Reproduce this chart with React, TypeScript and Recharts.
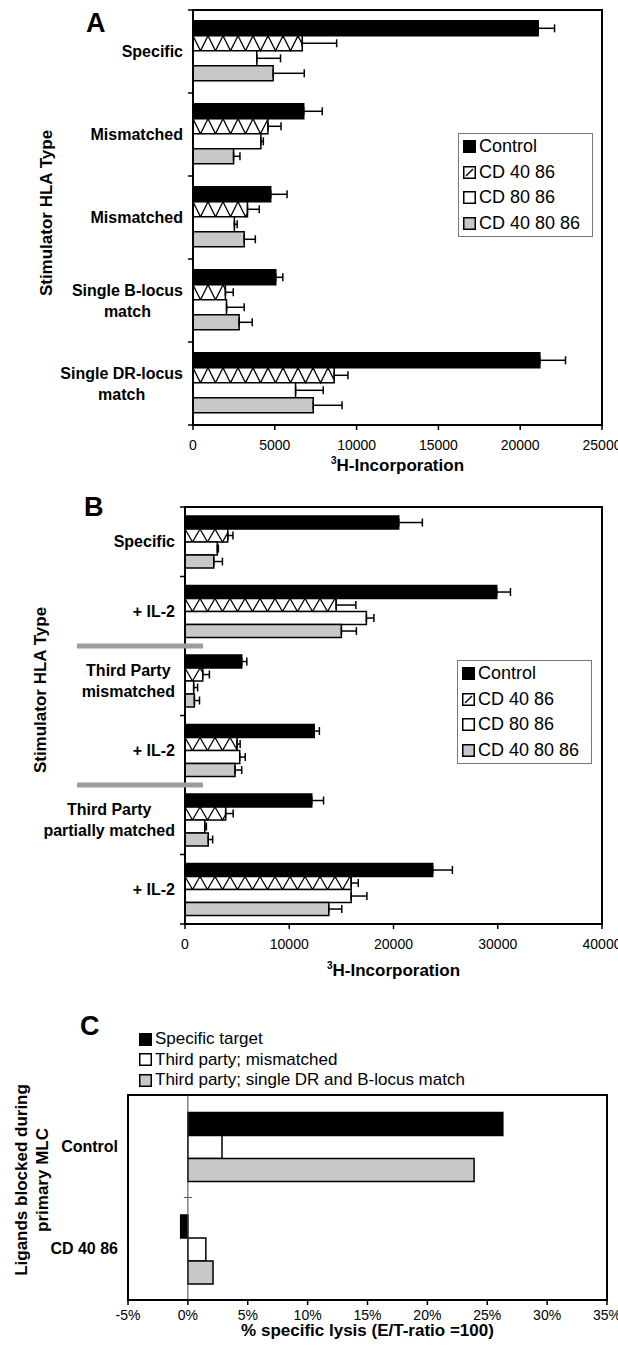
import React from "react";
import {
  BarChart,
  Bar,
  XAxis,
  YAxis,
  ErrorBar,
  Legend,
  Label,
  ReferenceLine,
  ReferenceArea,
} from "recharts";

const FONT = "'Liberation Sans', Arial, Helvetica, sans-serif";

// ---------- Panel A ----------
const catsA = [
  "Specific",
  "Mismatched",
  "Mismatched",
  "Single B-locus\nmatch",
  "Single DR-locus\nmatch",
];
const controlA = [21100, 6770, 4750, 5060, 21200];
const controlErrA = [1000, 1130, 1000, 430, 1570];
const cd4086A = [6680, 4580, 3330, 1980, 8630];
const cd4086ErrA = [2100, 800, 720, 480, 840];
const cd8086A = [3900, 4150, 2530, 2050, 6270];
const cd8086ErrA = [1450, 150, 170, 1080, 1690];
const cd408086A = [4900, 2480, 3130, 2820, 7350];
const cd408086ErrA = [1900, 390, 680, 800, 1760];
const ticksA = [0, 5000, 10000, 15000, 20000, 25000];

// ---------- Panel B ----------
const catsB = [
  "Specific",
  "+ IL-2",
  "Third Party\nmismatched",
  "+ IL-2",
  "Third Party\npartially matched",
  "+ IL-2",
];
const controlB = [20500, 29900, 5440, 12400, 12160, 23760];
const controlErrB = [2270, 1320, 490, 490, 1130, 1890];
const cd4086B = [4100, 14500, 1700, 4990, 3900, 15940];
const cd4086ErrB = [500, 1890, 640, 300, 720, 680];
const cd8086B = [3100, 17400, 830, 5250, 1900, 15940];
const cd8086ErrB = [100, 720, 380, 530, 150, 1510];
const cd408086B = [2760, 15000, 900, 4800, 2230, 13790];
const cd408086ErrB = [830, 1440, 490, 640, 420, 1250];
const ticksB = [0, 10000, 20000, 30000, 40000];
const separatorsB = [2, 4]; // grey divider above these groups

// ---------- Panel C ----------
const catsC = ["Control", "CD 40 86"];
const specificC = [26.3, -0.6];
const mismatchedC = [2.85, 1.5];
const partialC = [23.9, 2.1];
const ticksC = [-5, 0, 5, 10, 15, 20, 25, 30, 35];

const SERIES = [
  { key: "control", name: "Control", fill: "#000000" },
  { key: "cd4086", name: "CD 40 86", fill: "hatch" },
  { key: "cd8086", name: "CD 80 86", fill: "#ffffff" },
  { key: "cd408086", name: "CD 40 80 86", fill: "#c8c8c8" },
];

const SERIES_C = [
  { key: "specific", name: "Specific target", fill: "#000000" },
  { key: "mismatched", name: "Third party; mismatched", fill: "#ffffff" },
  { key: "partial", name: "Third party; single DR and B-locus match", fill: "#c8c8c8" },
];

const AXIS = { stroke: "#000", strokeWidth: 2 };

function makeRows(vals: number[][], errs: number[][], n: number) {
  const rows: any[] = [];
  for (let i = 0; i < n; i++) {
    const r: any = { id: i };
    SERIES.forEach((s, k) => {
      r[s.key] = vals[k][i];
      r[s.key + "Err"] = [0, errs[k][i]];
    });
    rows.push(r);
  }
  return rows;
}

const rowsA = makeRows(
  [controlA, cd4086A, cd8086A, cd408086A],
  [controlErrA, cd4086ErrA, cd8086ErrA, cd408086ErrA],
  catsA.length
);
const rowsB = makeRows(
  [controlB, cd4086B, cd8086B, cd408086B],
  [controlErrB, cd4086ErrB, cd8086ErrB, cd408086ErrB],
  catsB.length
);
const rowsC = catsC.map((c, i) => ({
  id: i,
  specific: specificC[i],
  mismatched: mismatchedC[i],
  partial: partialC[i],
}));

let measureCtx: CanvasRenderingContext2D | null = null;
function textWidth(s: string, font: string) {
  if (!measureCtx) measureCtx = document.createElement("canvas").getContext("2d");
  if (!measureCtx) return s.length * 8;
  measureCtx.font = font;
  return measureCtx.measureText(s).width;
}

// zigzag-hatched bar for CD 40 86
function HatchBar(props: any) {
  const { x, y, width, height } = props;
  if (!width || !height) return null;
  const step = 7.5;
  let d = `M${x},${y}`;
  let px = x;
  let atTop = true;
  for (let k = 1; k < 200; k++) {
    const nx = x + k * step;
    if (nx >= x + width) {
      const t = (x + width - px) / step;
      const ey = atTop ? y + t * height : y + height - t * height;
      d += ` L${x + width},${ey}`;
      break;
    }
    d += ` L${nx},${atTop ? y + height : y}`;
    px = nx;
    atTop = !atTop;
  }
  return (
    <g>
      <rect x={x} y={y} width={width} height={height} fill="#fff" stroke="#000" strokeWidth={1.5} />
      <path d={d} fill="none" stroke="#000" strokeWidth={1.3} />
    </g>
  );
}

function CatTick(props: any) {
  const { y, payload, labels, plotLeft, band, count, separators, boundaryTicks, zeroX } = props;
  const i = payload.value as number;
  const lines = String(labels[i]).split("\n");
  const fontSize = 16;
  const font = `bold ${fontSize}px ${FONT}`;
  const w = Math.max(...lines.map((l) => textWidth(l, font)));
  const cx = plotLeft - 10 - w / 2;
  const lh = 21;
  const y0 = y - ((lines.length - 1) * lh) / 2;
  const topB = y - band / 2;
  return (
    <g>
      {boundaryTicks && (
        <line x1={plotLeft - 5} x2={plotLeft} y1={topB} y2={topB} stroke="#000" strokeWidth={1.5} />
      )}
      {boundaryTicks && i === count - 1 && (
        <line x1={plotLeft - 5} x2={plotLeft} y1={y + band / 2} y2={y + band / 2} stroke="#000" strokeWidth={1.5} />
      )}
      {zeroX != null && i > 0 && (
        <line x1={zeroX - 4} x2={zeroX + 4} y1={topB} y2={topB} stroke="#555" strokeWidth={1} />
      )}
      {separators && separators.includes(i) && (
        <line x1={plotLeft - 108} x2={plotLeft + 18} y1={topB} y2={topB} stroke="#9c9c9c" strokeWidth={5} />
      )}
      <text textAnchor="middle" fontFamily={FONT} fontWeight="bold" fontSize={fontSize} fill="#000">
        {lines.map((l, k) => (
          <tspan key={k} x={cx} y={y0 + k * lh} dominantBaseline="central">
            {l}
          </tspan>
        ))}
      </text>
    </g>
  );
}

function Swatch({ fill }: { fill: string }) {
  return (
    <svg width={13} height={13} style={{ marginRight: 3, flex: "none" }}>
      <rect x={0.75} y={0.75} width={11.5} height={11.5} fill={fill === "hatch" ? "#fff" : fill} stroke="#000" strokeWidth={1.5} />
      {fill === "hatch" && <line x1={3} y1={10} x2={10} y2={3} stroke="#000" strokeWidth={1.5} />}
    </svg>
  );
}

function BoxLegend() {
  return (
    <div
      style={{
        border: "1px solid #777",
        background: "#fff",
        padding: "0 4px",
        fontFamily: FONT,
        fontSize: 18,
        lineHeight: "25.5px",
        color: "#000",
        boxSizing: "border-box",
      }}
    >
      {SERIES.map((s) => (
        <div key={s.key} style={{ display: "flex", alignItems: "center", whiteSpace: "nowrap" }}>
          <Swatch fill={s.fill} />
          <span>{s.name}</span>
        </div>
      ))}
    </div>
  );
}

function LegendC() {
  return (
    <div style={{ fontFamily: FONT, fontSize: 17, lineHeight: "20.5px", color: "#000" }}>
      {SERIES_C.map((s) => (
        <div key={s.key} style={{ display: "flex", alignItems: "center", whiteSpace: "nowrap" }}>
          <Swatch fill={s.fill} />
          <span>{s.name}</span>
        </div>
      ))}
    </div>
  );
}

function XTitle({ x, y, text, sup }: { x: number; y: number; text: string; sup?: string }) {
  return (
    <text x={x} y={y} textAnchor="middle" fontFamily={FONT} fontWeight="bold" fontSize={17} fill="#000">
      {sup && (
        <tspan fontSize={10} dy={-7}>
          {sup}
        </tspan>
      )}
      <tspan dy={sup ? 7 : 0}>{text}</tspan>
    </text>
  );
}

function YTitle({ x, y, lines }: { x: number; y: number; lines: string[] }) {
  const lh = 21;
  return (
    <text
      transform={`translate(${x},${y}) rotate(-90)`}
      textAnchor="middle"
      fontFamily={FONT}
      fontWeight="bold"
      fontSize={17}
      fill="#000"
    >
      {lines.map((l, k) => (
        <tspan key={k} x={0} y={(k - (lines.length - 1) / 2) * lh} dominantBaseline="central">
          {l}
        </tspan>
      ))}
    </text>
  );
}

const tickStyle = { fontSize: 14, fill: "#000", fontFamily: FONT };

type PanelProps = {
  rows: any[];
  cats: string[];
  height: number;
  margin: { top: number; right: number; bottom: number; left: number };
  domain: [number, number];
  ticks: number[];
  legend: { left: number; top: number; width: number };
  yTitle: { x: number; y: number };
  xTitleY: number;
  separators?: number[];
};

function HlaPanel({ rows, cats, height, margin, domain, ticks, legend, yTitle, xTitleY, separators }: PanelProps) {
  const W = 618;
  const yw = 110;
  const xh = 45;
  const plotLeft = margin.left + yw;
  const plotRight = W - margin.right;
  const plotH = height - margin.top - margin.bottom - xh;
  const band = plotH / cats.length;
  return (
    <BarChart
      width={W}
      height={height}
      data={rows}
      layout="vertical"
      margin={margin}
      barCategoryGap="13%"
      barGap={0}
    >
      <XAxis
        type="number"
        domain={domain}
        ticks={ticks}
        interval={0}
        allowDataOverflow
        height={xh}
        axisLine={AXIS}
        tickLine={{ stroke: "#000", strokeWidth: 1.5 }}
        tickSize={5}
        tickMargin={10}
        tick={tickStyle}
      >
        <Label
          content={() => (
            <XTitle x={(plotLeft + plotRight) / 2} y={xTitleY} sup="3" text="H-Incorporation" />
          )}
        />
      </XAxis>
      <YAxis
        type="category"
        dataKey="id"
        width={yw}
        axisLine={AXIS}
        tickLine={false}
        tickSize={0}
        interval={0}
        tick={(p: any) => (
          <CatTick
            {...p}
            labels={cats}
            plotLeft={plotLeft}
            band={band}
            count={cats.length}
            separators={separators}
            boundaryTicks
          />
        )}
      >
        <Label content={() => <YTitle x={yTitle.x} y={yTitle.y} lines={["Stimulator HLA Type"]} />} />
      </YAxis>
      {/* plot-area frame */}
      <ReferenceArea x1={domain[0]} x2={domain[1]} fill="none" stroke="#000" strokeWidth={2} fillOpacity={0} ifOverflow="visible" />
      <Legend
        layout="vertical"
        align="center"
        verticalAlign="middle"
        wrapperStyle={{ left: legend.left, top: legend.top, width: legend.width }}
        content={() => <BoxLegend />}
      />
      {SERIES.map((s) => (
        <Bar
          key={s.key}
          dataKey={s.key}
          name={s.name}
          fill={s.fill === "hatch" ? "#fff" : s.fill}
          stroke="#000"
          strokeWidth={1.5}
          isAnimationActive={false}
          shape={s.fill === "hatch" ? HatchBar : undefined}
        >
          <ErrorBar dataKey={s.key + "Err"} direction="x" width={4} stroke="#000" strokeWidth={1.5} />
        </Bar>
      ))}
    </BarChart>
  );
}

function PanelC() {
  const W = 618;
  const H = 370;
  const margin = { top: 115, right: 11, bottom: 5, left: 38 };
  const yw = 90;
  const xh = 45;
  const plotLeft = margin.left + yw;
  const plotRight = W - margin.right;
  const plotH = H - margin.top - margin.bottom - xh;
  const band = plotH / catsC.length;
  const domain: [number, number] = [ticksC[0], ticksC[ticksC.length - 1]];
  const zeroX = plotLeft + ((0 - domain[0]) / (domain[1] - domain[0])) * (plotRight - plotLeft);
  return (
    <BarChart
      width={W}
      height={H}
      data={rowsC}
      layout="vertical"
      margin={margin}
      barCategoryGap="17%"
      barGap={0}
    >
      <XAxis
        type="number"
        domain={domain}
        ticks={ticksC}
        interval={0}
        allowDataOverflow
        height={xh}
        axisLine={AXIS}
        tickLine={{ stroke: "#000", strokeWidth: 1.5 }}
        tickSize={5}
        tickMargin={5}
        tick={tickStyle}
        tickFormatter={(v: number) => `${v}%`}
      >
        <Label
          content={() => (
            <XTitle x={(plotLeft + plotRight) / 2} y={356} text="% specific lysis (E/T-ratio =100)" />
          )}
        />
      </XAxis>
      <YAxis
        type="category"
        dataKey="id"
        width={yw}
        axisLine={AXIS}
        tickLine={false}
        tickSize={0}
        interval={0}
        tick={(p: any) => (
          <CatTick {...p} labels={catsC} plotLeft={plotLeft} band={band} count={catsC.length} zeroX={zeroX} />
        )}
      >
        <Label content={() => <YTitle x={32} y={200} lines={["Ligands blocked during", "primary MLC"]} />} />
      </YAxis>
      <ReferenceArea x1={domain[0]} x2={domain[1]} fill="none" stroke="#000" strokeWidth={2} fillOpacity={0} ifOverflow="visible" />
      <ReferenceLine x={0} stroke="#444" strokeWidth={1} />
      <Legend
        layout="vertical"
        align="center"
        verticalAlign="middle"
        wrapperStyle={{ left: 139, top: 49, width: 360 }}
        content={() => <LegendC />}
      />
      {SERIES_C.map((s) => (
        <Bar
          key={s.key}
          dataKey={s.key}
          name={s.name}
          fill={s.fill}
          stroke="#000"
          strokeWidth={1.5}
          isAnimationActive={false}
        />
      ))}
    </BarChart>
  );
}

const letterStyle: React.CSSProperties = {
  position: "absolute",
  fontFamily: FONT,
  fontWeight: "bold",
  fontSize: 27,
  lineHeight: "27px",
  color: "#000",
};

export default function App() {
  return (
    <div style={{ position: "absolute", left: 0, top: 0, width: 618, height: 1350, background: "#fff" }}>
      <div style={{ position: "absolute", left: 0, top: 0 }}>
        <HlaPanel
          rows={rowsA}
          cats={catsA}
          height={480}
          margin={{ top: 10, right: 16, bottom: 10, left: 83 }}
          domain={[0, 25000]}
          ticks={ticksA}
          legend={{ left: 458, top: 133, width: 135 }}
          yTitle={{ x: 46, y: 213 }}
          xTitleY={471}
        />
      </div>
      <div style={{ position: "absolute", left: 0, top: 480 }}>
        <HlaPanel
          rows={rowsB}
          cats={catsB}
          height={500}
          margin={{ top: 27, right: 16, bottom: 11, left: 75 }}
          domain={[0, 40000]}
          ticks={ticksB}
          legend={{ left: 457, top: 180, width: 135 }}
          yTitle={{ x: 40, y: 210 }}
          xTitleY={496}
          separators={separatorsB}
        />
      </div>
      <div style={{ position: "absolute", left: 0, top: 980 }}>
        <PanelC />
      </div>
      <div style={{ ...letterStyle, left: 86, top: 10 }}>A</div>
      <div style={{ ...letterStyle, left: 84, top: 494 }}>B</div>
      <div style={{ ...letterStyle, left: 80, top: 1013 }}>C</div>
    </div>
  );
}
